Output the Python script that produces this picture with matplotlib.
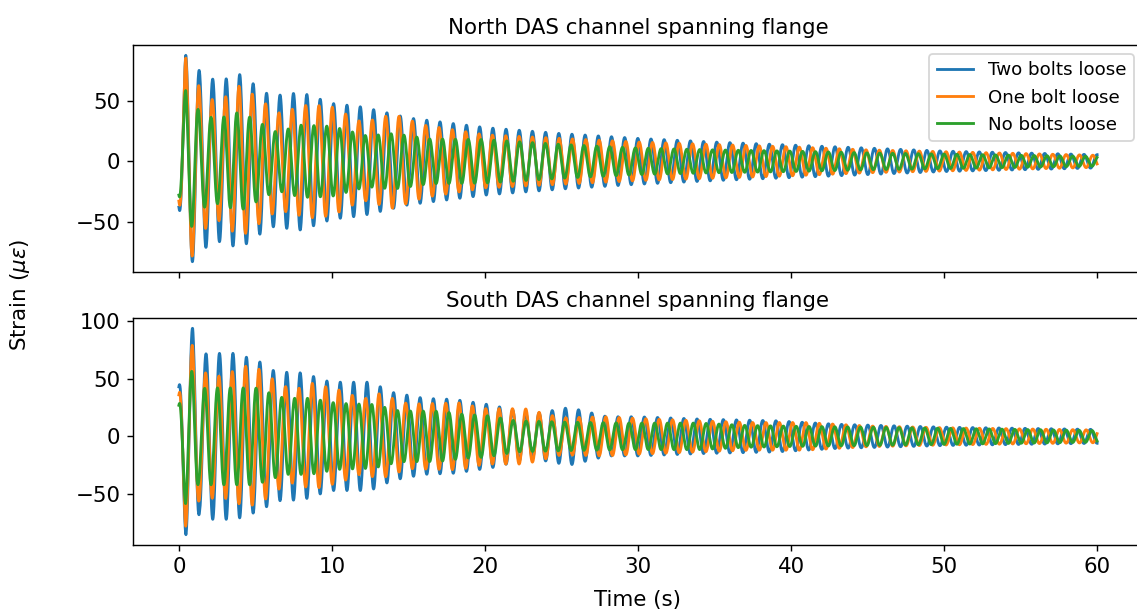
import numpy as np
import matplotlib
matplotlib.use("Agg")
import matplotlib.pyplot as plt

# Envelope (peak strain, microstrain) at knot times (s)
labels = ["Two bolts loose", "One bolt loose", "No bolts loose"]

# North channel
north_two_t = [0, 0.45, 0.9, 1.4, 2.5, 4, 6, 8, 10, 12, 15, 20, 25, 30, 35, 40, 45, 50, 55, 60]
north_two_a = [38, 88, 83, 74, 66, 72, 54, 57, 48, 45, 36, 28, 23, 19, 16, 13.5, 11, 8.5, 7, 5.5]
north_one_t = [0, 0.45, 0.9, 1.4, 2.5, 4, 6.5, 8.5, 10, 12, 14, 16, 20, 25, 30, 35, 40, 45, 50, 55, 60]
north_one_a = [33, 86, 78, 59, 48, 63, 40, 47, 45, 32, 39, 30, 22, 19, 16, 14, 12, 9.5, 8, 6.5, 5]
north_none_t = [0, 0.45, 0.9, 1.4, 2.5, 4, 6.4, 8, 10, 12.3, 14, 16.4, 20, 25, 30, 35, 40, 45, 50, 55, 60]
north_none_a = [28, 60, 53, 39, 35, 41, 24, 30, 29, 21, 23, 18.5, 18, 14, 11, 9.5, 8.5, 7, 6, 5, 4]

# South channel
south_two_t = [0, 0.46, 0.9, 1.35, 1.8, 3.7, 5.4, 6.3, 8.1, 9.9, 12.5, 14, 16, 18, 20.5, 23, 25.5, 28, 30, 34, 39, 43, 50, 55, 60]
south_two_a = [43, 86, 94, 66, 72, 72, 64, 56, 55, 47, 47, 38, 33, 32, 27, 19, 25, 17, 17, 15, 13.5, 10.5, 8, 7, 6]
south_one_t = [0, 0.44, 0.9, 1.3, 1.76, 2.7, 4.4, 5.3, 6.5, 7.5, 8.7, 10.5, 12, 13.1, 15, 18.3, 20, 22.6, 25, 27.8, 30, 35, 37.4, 40.9, 45, 50, 55, 60]
south_one_a = [36, 78, 79, 56, 55, 52, 61, 58, 46, 40, 46, 40, 32, 37, 28, 29, 24, 24, 16, 17, 15.5, 13, 12, 12, 9, 7.5, 6.5, 5.5]
south_none_t = [0, 0.44, 0.9, 1.3, 1.76, 5.0, 6.9, 8.6, 10.3, 12.7, 14.4, 17, 18.6, 20.1, 22, 25.2, 29.4, 34, 37, 41, 45, 50, 55, 60]
south_none_a = [27, 59, 56, 40, 42, 42, 33, 33, 28.7, 27.6, 22, 21.8, 19, 18, 13.5, 12.4, 11.5, 11.5, 9.5, 8.6, 8, 7, 6, 5]

# ringing frequency (Hz) at knot times, per case
freq_t = [0, 20, 60]
freq_two = [1.13, 1.16, 1.17]
freq_one = [1.147, 1.147, 1.147]
freq_none = [1.19, 1.19, 1.19]

dt = 0.01
t = np.arange(0, 60 + dt, dt)


def ringdown(env_t, env_a, freqs, sign):
    env = np.interp(t, env_t, env_a)
    f = np.interp(t, freq_t, freqs)
    phase = 2 * np.pi * np.concatenate([[0], np.cumsum(f[:-1] * dt)])
    return sign * env * np.cos(phase)


north = [ringdown(north_two_t, north_two_a, freq_two, -1),
         ringdown(north_one_t, north_one_a, freq_one, -1),
         ringdown(north_none_t, north_none_a, freq_none, -1)]
south = [ringdown(south_two_t, south_two_a, freq_two, 1),
         ringdown(south_one_t, south_one_a, freq_one, 1),
         ringdown(south_none_t, south_none_a, freq_none, 1)]

plt.rcParams["xtick.labelsize"] = 12
plt.rcParams["ytick.labelsize"] = 12
plt.rcParams["axes.labelsize"] = 12

fig = plt.figure(figsize=(1137 / 128, 614 / 128), dpi=128)
ax1 = fig.add_axes([133 / 1137, 1 - 272 / 614, 1010 / 1137, 227 / 614])
ax2 = fig.add_axes([133 / 1137, 1 - 545 / 614, 1010 / 1137, 227 / 614], sharex=ax1)

for y, lab in zip(north, labels):
    ax1.plot(t, y, label=lab, lw=1.6)
for y in south:
    ax2.plot(t, y, lw=1.6)

ax1.set_title("North DAS channel spanning flange")
ax2.set_title("South DAS channel spanning flange")
ax1.legend(loc="upper right", fontsize=10.3)
ax1.tick_params(labelbottom=False)
ax2.set_xlabel("Time (s)", labelpad=7)
fig.text(20 / 1137, 1 - 295 / 614, r"Strain ($\mu\varepsilon$)", rotation=90,
         ha="center", va="center", fontsize=12)

fig.savefig("out.png", dpi=128)
